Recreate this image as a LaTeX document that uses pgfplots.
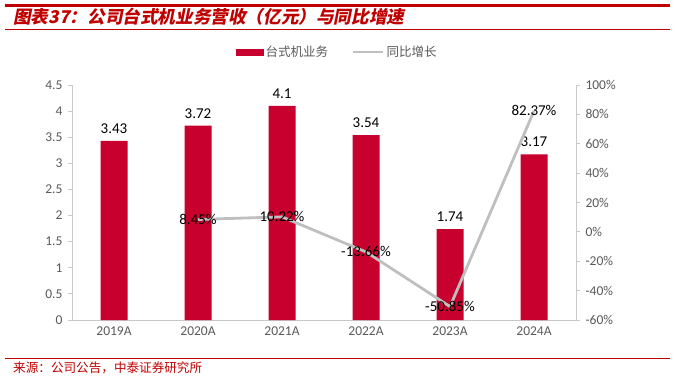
\documentclass[border=0pt]{standalone}
\usepackage{pgfplots}
\pgfplotsset{compat=1.18}
\usepackage{fontspec}
\setmainfont{Carlito}
\newfontfamily\cjk{Noto Sans CJK SC}
\newfontfamily\cjktitle[FakeSlant=0.2]{Noto Sans CJK SC}
\definecolor{barred}{RGB}{200,0,45}
\definecolor{linegray}{RGB}{191,191,191}
\definecolor{ticktext}{RGB}{89,89,89}
\definecolor{axgray}{RGB}{200,200,200}
\definecolor{titlered}{RGB}{192,0,0}
\begin{document}
\begin{tikzpicture}[x=1pt,y=1pt]
\path (0,0) rectangle (680,-378);
\draw[titlered, line width=3] (5,-5) -- (670,-5);
\draw[titlered, line width=1] (5,-29) -- (670,-29);
\node[anchor=west, text=titlered, inner sep=0] at (13,-17) {\fontsize{17.6}{17.6}\selectfont\cjktitle\bfseries 图表37：公司台式机业务营收（亿元）与同比增速};
\draw[titlered, line width=1] (5,-358) -- (670,-358);
\node[anchor=west, text=titlered, inner sep=0] at (13,-368) {\fontsize{12.6}{12.6}\selectfont\cjk 来源：公司公告，中泰证券研究所};

\begin{axis}[
  at={(72pt,-320pt)}, anchor=south west,
  width=504pt, height=235pt, scale only axis,
  xmin=-0.5, xmax=5.5, ymin=0, ymax=4.5,
  xtick={0,...,5}, xticklabels={2019A,2020A,2021A,2022A,2023A,2024A},
  ytick={0,0.5,...,4.5},
  axis y line*=left, axis x line*=bottom,
  axis line style={axgray, line width=0.8pt, -},
  tick style={axgray, line width=0.8pt},
  xtick style={draw=none},
  ytick align=outside, major tick length=4pt,
  tick label style={text=ticktext, font=\fontsize{13.5}{13.5}\selectfont},
  /pgf/number format/assume math mode=true,
  yticklabel style={xshift=-2pt},
  xticklabel style={yshift=-3pt},
  clip=false,
  legend columns=2,
  legend style={at={(0.526,1.14)}, anchor=center, draw=none, fill=none,
    font=\fontsize{12.5}{12.5}\selectfont\cjk, text=ticktext,
    /tikz/every even column/.append style={column sep=22pt}},
  legend cell align=left,
]
\addplot[ybar, bar width=27pt, fill=barred, draw=none,
  nodes near coords,
  every node near coord/.append style={text=black, font=\fontsize{15}{15}\selectfont, anchor=south, yshift=4pt},
  /pgf/number format/assume math mode=true,
  legend image code/.code={\fill[barred] (0pt,-3.5pt) rectangle (28pt,3.5pt);}
] coordinates {(0,3.43) (1,3.72) (2,4.1) (3,3.54) (4,1.74) (5,3.17)};
\addlegendentry{台式机业务}
\addlegendimage{legend image code/.code={\draw[linegray, line width=2.5pt] (0pt,0pt) -- (30pt,0pt);}}
\addlegendentry{同比增长}
\end{axis}

\begin{axis}[
  at={(72pt,-320pt)}, anchor=south west,
  width=504pt, height=235pt, scale only axis,
  xmin=-0.5, xmax=5.5, ymin=-60, ymax=100,
  ytick={-60,-40,...,100},
  yticklabel={\pgfmathprintnumber{\tick}\%},
  axis y line*=right, axis x line=none,
  axis line style={axgray, line width=0.8pt, -},
  tick style={axgray, line width=0.8pt},
  ytick align=outside, major tick length=4pt,
  tick label style={text=ticktext, font=\fontsize{13.5}{13.5}\selectfont},
  yticklabel style={xshift=2pt},
  /pgf/number format/assume math mode=true,
  clip=false,
]
\addplot[linegray, line width=2.8pt, no marks,
  nodes near coords={\pgfmathprintnumber[fixed,precision=2,fixed zerofill]{\pgfplotspointmeta}\%},
  every node near coord/.append style={text=black, font=\fontsize{15}{15}\selectfont, anchor=center},
  /pgf/number format/assume math mode=true,
] coordinates {(1,8.45) (2,10.22) (3,-13.66) (4,-50.85) (5,82.37)};
\end{axis}
\end{tikzpicture}
\end{document}
